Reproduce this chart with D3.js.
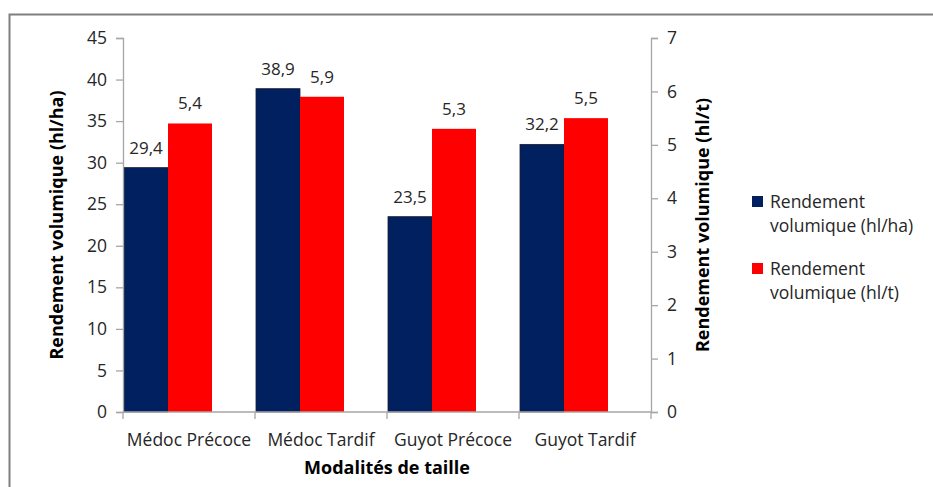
<!DOCTYPE html>
<html><head><meta charset="utf-8">
<script src="https://cdn.jsdelivr.net/npm/d3@7"></script>
<style>body{margin:0;background:#fff}svg{display:block}text{font-family:"Open Sans","Liberation Sans",sans-serif}</style>
</head><body>
<svg id="c" width="933" height="487"></svg>
<script>
const categories = ["Médoc Précoce","Médoc Tardif","Guyot Précoce","Guyot Tardif"];
const hlHa = [29.4, 38.9, 23.5, 32.2];
const hlT = [5.4, 5.9, 5.3, 5.5];
const leftTicks = [0,5,10,15,20,25,30,35,40,45];
const rightTicks = [0,1,2,3,4,5,6,7];
const seriesNames = ["Rendement volumique (hl/ha)","Rendement volumique (hl/t)"];
const colors = ["#002060","#FF0000"];

const svg = d3.select("#c");
svg.append("rect").attr("x",9.5).attr("y",14.5).attr("width",940).attr("height",500)
  .attr("fill","none").attr("stroke","#7f7f7f").attr("stroke-width",2);

const x0=123, x1=651, yTop=38, yBot=412;
const x = d3.scaleBand().domain(categories).range([x0,x1]).paddingInner(0).paddingOuter(0);
const yL = d3.scaleLinear().domain([0,45]).range([yBot,yTop]);
const yR = d3.scaleLinear().domain([0,7]).range([yBot,yTop]);
// bars sit at left side of each category band (as in reference)
const inner = d3.scaleBand().domain([0,1,2]).range([1,x.bandwidth()+1]).paddingInner(0).paddingOuter(0);

const fmt = v => d3.format(".1f")(v).replace(".",",");
const textCol = "#262626";

const g = svg.append("g");
categories.forEach((c,i)=>{
  const bx = x(c)+inner(0), rx = x(c)+inner(1), w = inner.bandwidth();
  g.append("rect").attr("x",bx).attr("y",yL(hlHa[i])).attr("width",w).attr("height",yBot-yL(hlHa[i]))
    .attr("fill",colors[0]).attr("stroke","#1a1a2e").attr("stroke-width",0.8);
  g.append("rect").attr("x",rx).attr("y",yR(hlT[i])).attr("width",w).attr("height",yBot-yR(hlT[i]))
    .attr("fill",colors[1]);
  g.append("text").attr("x",bx+w/2).attr("y",yL(hlHa[i])-14).attr("text-anchor","middle")
    .attr("font-size",17).attr("fill",textCol).text(fmt(hlHa[i]));
  g.append("text").attr("x",rx+w/2).attr("y",yR(hlT[i])-14).attr("text-anchor","middle")
    .attr("font-size",17).attr("fill",textCol).text(fmt(hlT[i]));
});

function styleAxis(sel, fs){
  sel.selectAll("path,line").attr("stroke","#a6a6a6").attr("stroke-width",1.3);
  sel.selectAll("text").attr("font-size",fs).attr("fill",textCol).attr("font-family","'Open Sans',sans-serif");
}
const aL = svg.append("g").attr("transform",`translate(${x0},0)`)
  .call(d3.axisLeft(yL).tickValues(leftTicks).tickSize(7).tickSizeOuter(7).tickPadding(9).tickFormat(d3.format("d")));
styleAxis(aL,17.5);
const aR = svg.append("g").attr("transform",`translate(${x1},0)`)
  .call(d3.axisRight(yR).tickValues(rightTicks).tickSize(7).tickSizeOuter(7).tickPadding(9).tickFormat(d3.format("d")));
styleAxis(aR,17.5);
const aX = svg.append("g").attr("transform",`translate(0,${yBot})`)
  .call(d3.axisBottom(x).tickSize(0).tickPadding(22));
aX.select("path").remove();
styleAxis(aX,17.5);
const sepVals = categories.map(c=>x(c)).concat([x1]);
svg.append("g").selectAll("line").data(sepVals).join("line")
  .attr("x1",d=>d).attr("x2",d=>d).attr("y1",yBot).attr("y2",yBot+7)
  .attr("stroke","#a6a6a6").attr("stroke-width",1.3);
svg.append("line").attr("x1",x0).attr("x2",x1).attr("y1",yBot).attr("y2",yBot)
  .attr("stroke","#a6a6a6").attr("stroke-width",1.3);

svg.append("text").attr("transform",`translate(63,${(yTop+yBot)/2}) rotate(-90)`)
  .attr("text-anchor","middle").attr("font-size",18).attr("font-weight","bold").attr("fill","#000")
  .text(seriesNames[0]);
svg.append("text").attr("transform",`translate(709,${(yTop+yBot)/2}) rotate(-90)`)
  .attr("text-anchor","middle").attr("font-size",18).attr("font-weight","bold").attr("fill","#000")
  .text(seriesNames[1]);
svg.append("text").attr("x",387).attr("y",474).attr("text-anchor","middle")
  .attr("font-size",18).attr("font-weight","bold").attr("fill","#000").text("Modalités de taille");

const leg = svg.append("g");
seriesNames.forEach((n,i)=>{
  const y = 196 + i*67;
  leg.append("rect").attr("x",752).attr("y",y).attr("width",11).attr("height",11).attr("fill",colors[i]);
  const parts = ["Rendement", n.replace("Rendement ","")];
  parts.forEach((p,j)=>{
    leg.append("text").attr("x",770).attr("y",y+12+j*24).attr("font-size",17.5).attr("fill",textCol).text(p);
  });
});
</script>
</body></html>
